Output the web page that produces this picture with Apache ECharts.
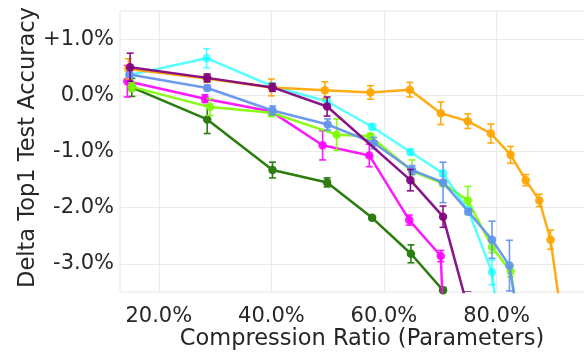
<!DOCTYPE html>
<html>
<head>
<meta charset="utf-8">
<script src="https://cdn.jsdelivr.net/npm/echarts@6/dist/echarts.min.js"></script>
<style>html,body{margin:0;padding:0;background:#fff}#chart{width:584px;height:353px}</style>
</head>
<body>
<div id="chart"></div>
<script>
// Tick labels
const xTickValues = [20, 40, 60, 80];
const yTickValues = [-3, -2, -1, 0, 1];

// Series data (x = compression ratio %, y = delta accuracy %, err = half error bar)
const orangeX = [14.6, 28.5, 40.0, 49.5, 57.6, 64.6, 70.1, 74.9, 79.0, 82.5, 85.2, 87.6, 89.6, 92.0];
const orangeY = [0.47, 0.30, 0.14, 0.09, 0.05, 0.10, -0.32, -0.46, -0.68, -1.06, -1.51, -1.87, -2.57, -4.27];
const orangeErr = [0.18, 0.07, 0.15, 0.15, 0.12, 0.13, 0.20, 0.13, 0.17, 0.15, 0.10, 0.11, 0.17, 0.2];

const cyanX = [14.8, 28.5, 40.0, 49.9, 57.9, 64.7, 70.5, 75.0, 79.2, 81.0];
const cyanY = [0.36, 0.66, 0.17, -0.11, -0.56, -1.01, -1.39, -2.05, -3.15, -4.6];
const cyanErr = [0.05, 0.17, 0.05, 0.05, 0.05, 0.05, 0.05, 0.05, 0.22, 0.2];

const purpleX = [14.9, 28.6, 40.2, 49.9, 64.7, 70.5, 74.9];
const purpleY = [0.50, 0.31, 0.14, -0.20, -1.51, -2.16, -3.78];
const purpleErr = [0.25, 0.07, 0.07, 0.17, 0.19, 0.19, 0.28];

const blueX = [14.8, 28.6, 40.2, 50.0, 58.2, 65.0, 70.5, 75.0, 79.2, 82.3, 84.0];
const blueY = [0.37, 0.13, -0.27, -0.52, -0.85, -1.33, -1.55, -2.07, -2.57, -3.03, -4.1];
const blueErr = [0.05, 0.05, 0.08, 0.10, 0.10, 0.08, 0.36, 0.05, 0.33, 0.45, 0.2];

const magentaX = [14.4, 28.2, 40.0, 49.1, 57.4, 64.5, 70.1, 70.8];
const magentaY = [0.25, -0.06, -0.29, -0.89, -1.07, -2.22, -2.86, -4.6];
const magentaErr = [0.28, 0.07, 0.05, 0.26, 0.20, 0.09, 0.10, 0.2];

const limeX = [15.2, 29.1, 40.0, 51.6, 57.6, 65.0, 70.5, 74.9, 79.2, 82.5, 84.2];
const limeY = [0.15, -0.21, -0.31, -0.70, -0.73, -1.35, -1.57, -1.87, -2.70, -3.13, -4.2];
const limeErr = [0.08, 0.15, 0.07, 0.28, 0.05, 0.20, 0.05, 0.25, 0.10, 0.10, 0.2];

const greenX = [15.2, 28.6, 40.2, 49.9, 57.9, 64.8, 70.5];
const greenY = [0.14, -0.43, -1.33, -1.55, -2.18, -2.82, -3.47];
const greenErr = [0.16, 0.25, 0.14, 0.08, 0.03, 0.16, 0.05];

const seriesDefs = [
  {name: 'green', color: '#2a7d0e', x: greenX, y: greenY, e: greenErr},
  {name: 'magenta', color: 'rgba(255,0,255,0.9)', x: magentaX, y: magentaY, e: magentaErr},
  {name: 'lawngreen', color: 'rgba(124,252,0,0.9)', x: limeX, y: limeY, e: limeErr},
  {name: 'cyan', color: 'rgba(0,255,255,0.65)', x: cyanX, y: cyanY, e: cyanErr},
  {name: 'orange', color: 'rgba(255,165,0,0.92)', x: orangeX, y: orangeY, e: orangeErr},
  {name: 'cornflowerblue', color: 'rgba(100,149,237,0.95)', x: blueX, y: blueY, e: blueErr},
  {name: 'purple', color: 'rgba(128,0,128,0.92)', x: purpleX, y: purpleY, e: purpleErr}
];

const series = [];
seriesDefs.forEach(function (d, i) {
  series.push({
    type: 'custom',
    name: d.name + ' err',
    clip: true,
    z: 2 + i * 2,
    data: d.x.map(function (xv, k) { return [xv, d.y[k] - d.e[k], d.y[k] + d.e[k]]; }),
    encode: {x: 0, y: [1, 2]},
    renderItem: function (params, api) {
      const lo = api.coord([api.value(0), api.value(1)]);
      const hi = api.coord([api.value(0), api.value(2)]);
      const hw = 3.5;
      const st = {stroke: d.color, lineWidth: 1.6};
      return {
        type: 'group',
        children: [
          {type: 'line', shape: {x1: lo[0], y1: lo[1], x2: hi[0], y2: hi[1]}, style: st},
          {type: 'line', shape: {x1: lo[0] - hw, y1: lo[1], x2: lo[0] + hw, y2: lo[1]}, style: st},
          {type: 'line', shape: {x1: hi[0] - hw, y1: hi[1], x2: hi[0] + hw, y2: hi[1]}, style: st}
        ]
      };
    }
  });
  series.push({
    type: 'line',
    name: d.name,
    z: 3 + i * 2,
    clip: true,
    data: d.x.map(function (xv, k) { return [xv, d.y[k]]; }),
    symbol: 'circle',
    symbolSize: 8.5,
    showSymbol: true,
    itemStyle: {color: d.color},
    lineStyle: {color: d.color, width: 2.5},
    animation: false
  });
});

const chart = echarts.init(document.getElementById('chart'), null, {renderer: 'canvas'});
const font = 'DejaVu Sans';
chart.setOption({
  animation: false,
  backgroundColor: '#ffffff',
  grid: {left: 120, top: 11, width: 484, height: 281, show: true, borderColor: '#e6e6e6', borderWidth: 1,
    containLabel: false, outerBoundsMode: 'none'},
  xAxis: {
    type: 'value', min: 13.1, max: 99.1,
    name: 'Compression Ratio (Parameters)', nameLocation: 'middle', nameGap: 36, nameMoveOverlap: false,
    nameTextStyle: {fontFamily: font, fontSize: 22.5, color: '#262626'},
    axisLine: {show: false}, axisTick: {show: false, customValues: xTickValues},
    axisLabel: {customValues: xTickValues, fontFamily: font, fontSize: 21, color: '#262626', margin: 14,
      formatter: function (v) { return v.toFixed(1) + '%'; }},
    splitLine: {show: true, lineStyle: {color: '#ebebeb', width: 1}}
  },
  yAxis: {
    type: 'value', min: -3.5, max: 1.5,
    name: 'Delta Top1 Test Accuracy', nameLocation: 'middle', nameGap: 80, nameMoveOverlap: false,
    nameTextStyle: {fontFamily: font, fontSize: 22.5, color: '#262626', padding: [0, 0, 0, 8]},
    axisLine: {show: false}, axisTick: {show: false, customValues: yTickValues},
    axisLabel: {customValues: yTickValues, fontFamily: font, fontSize: 21, color: '#262626', margin: 6,
      formatter: function (v) { return (v > 0 ? '+' : '') + v.toFixed(1) + '%'; }},
    splitLine: {show: true, lineStyle: {color: '#ebebeb', width: 1}}
  },
  series: series
});
</script>
</body>
</html>
